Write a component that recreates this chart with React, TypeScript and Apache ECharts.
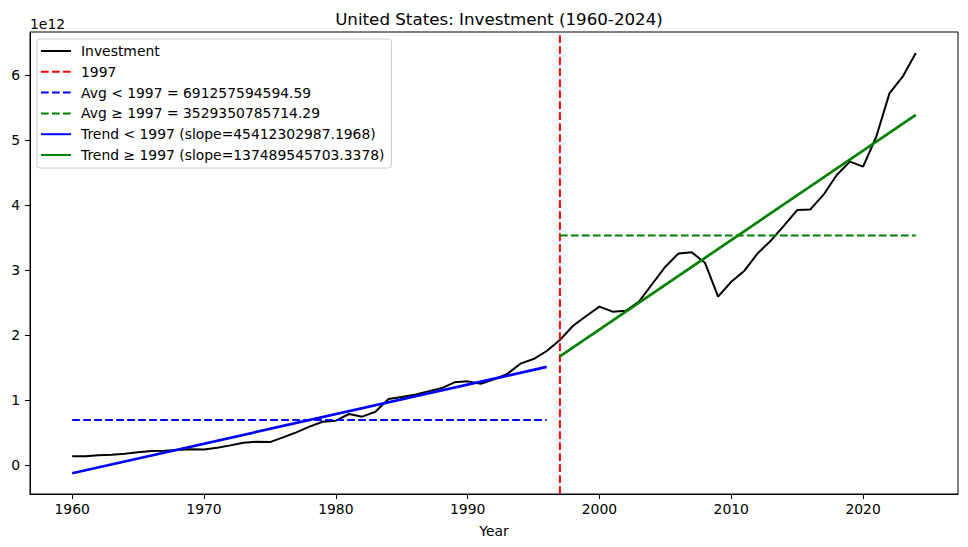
import React, { useEffect, useRef } from "react";
import * as echarts from "echarts";

// Years (x values)
const years = [
  1960, 1961, 1962, 1963, 1964, 1965, 1966, 1967, 1968, 1969,
  1970, 1971, 1972, 1973, 1974, 1975, 1976, 1977, 1978, 1979,
  1980, 1981, 1982, 1983, 1984, 1985, 1986, 1987, 1988, 1989,
  1990, 1991, 1992, 1993, 1994, 1995, 1996, 1997, 1998, 1999,
  2000, 2001, 2002, 2003, 2004, 2005, 2006, 2007, 2008, 2009,
  2010, 2011, 2012, 2013, 2014, 2015, 2016, 2017, 2018, 2019,
  2020, 2021, 2022, 2023, 2024,
];

// Investment, in units of 1e12
const investment = [
  0.134, 0.136, 0.149, 0.159, 0.174, 0.195, 0.215, 0.22, 0.23, 0.241,
  0.238, 0.267, 0.302, 0.343, 0.359, 0.353, 0.426, 0.503, 0.59, 0.666,
  0.682, 0.785, 0.744, 0.82, 1.015, 1.046, 1.082, 1.133, 1.18, 1.272,
  1.287, 1.251, 1.318, 1.4, 1.559, 1.63, 1.754, 1.923, 2.143, 2.292,
  2.436, 2.359, 2.374, 2.513, 2.785, 3.051, 3.256, 3.272, 3.113, 2.59,
  2.82, 2.99, 3.256, 3.451, 3.682, 3.923, 3.933, 4.159, 4.462, 4.667,
  4.59, 5.05, 5.718, 5.974, 6.34,
];

const splitYear = 1997;
const beforeRange = [1960, 1996];
const afterRange = [1997, 2024];
const avgBefore = 0.691257594594; // 1e12
const avgAfter = 3.529350785714; // 1e12
const trendBeforeEnds = [-0.126, 1.509]; // at 1960, 1996
const trendAfterEnds = [1.673, 5.386]; // at 1997, 2024

const xTicks = [1960, 1970, 1980, 1990, 2000, 2010, 2020];
const yTicks = [0, 1, 2, 3, 4, 5, 6];

const seriesNames = [
  "Investment",
  "1997",
  "Avg < 1997 = 691257594594.59",
  "Avg \u2265 1997 = 3529350785714.29",
  "Trend < 1997 (slope=45412302987.1968)",
  "Trend \u2265 1997 (slope=137489545703.3378)",
];

const title = "United States: Investment (1960-2024)";

const X_MIN = 1956.8;
const X_MAX = 2027.2;
const Y_MIN = -0.446;
const Y_MAX = 6.662;

const FONT = "DejaVu Sans";

export default function App() {
  const ref = useRef<HTMLDivElement>(null);
  useEffect(() => {
    document.body.style.margin = "0";
    if (!ref.current) return;
    const chart = echarts.init(ref.current, null, { renderer: "svg" });
    const dash = [7.7, 3.3];
    const thin = 2.0;
    const thick = 2.7;
    chart.setOption({
      animation: false,
      backgroundColor: "#ffffff",
      title: {
        text: title,
        left: 494,
        textAlign: "center",
        top: 5,
        textStyle: { fontFamily: FONT, fontSize: 16.7, fontWeight: "normal", color: "#000" },
      },
      graphic: [
        {
          type: "text",
          left: 30,
          top: 17,
          style: { text: "1e12", fontFamily: FONT, fontSize: 13.9, fill: "#000" },
        },
      ],
      legend: {
        orient: "vertical",
        left: 37,
        top: 39,
        itemWidth: 30,
        itemHeight: 14,
        itemGap: 6.8,
        padding: [5, 7, 6, 3],
        borderColor: "#cccccc",
        borderWidth: 1,
        borderRadius: 3,
        backgroundColor: "rgba(255,255,255,0.8)",
        itemStyle: { color: "transparent", borderWidth: 0, opacity: 0 },
        textStyle: { fontFamily: FONT, fontSize: 13.9, color: "#000", padding: [0, 0, 0, 5] },
        data: seriesNames,
      },
      grid: {
        left: 30,
        right: 10,
        top: 32,
        bottom: 53,
        show: true,
        borderColor: "#000",
        borderWidth: 1,
        backgroundColor: "transparent",
      },
      xAxis: {
        type: "value",
        min: X_MIN,
        max: X_MAX,
        name: "Year",
        nameLocation: "middle",
        nameGap: 30,
        nameTextStyle: { fontFamily: FONT, fontSize: 13.9, color: "#000" },
        axisLine: { show: true, onZero: false, lineStyle: { color: "#000", width: 1 } },
        axisTick: { show: true, inside: false, length: 5, customValues: xTicks, lineStyle: { color: "#000" } },
        axisLabel: {
          customValues: xTicks,
          margin: 8,
          fontFamily: FONT,
          fontSize: 13.9,
          color: "#000",
          formatter: (v: number) => String(v),
        },
        splitLine: { show: false },
      },
      yAxis: {
        type: "value",
        min: Y_MIN,
        max: Y_MAX,
        axisLine: { show: true, onZero: false, lineStyle: { color: "#000", width: 1 } },
        axisTick: { show: true, inside: false, length: 5, customValues: yTicks, lineStyle: { color: "#000" } },
        axisLabel: {
          customValues: yTicks,
          margin: 10,
          fontFamily: FONT,
          fontSize: 13.9,
          color: "#000",
          formatter: (v: number) => String(v),
        },
        splitLine: { show: false },
      },
      series: [
        {
          name: seriesNames[0],
          type: "line",
          data: years.map((y, i) => [y, investment[i]]),
          symbol: "none",
          lineStyle: { color: "#000000", width: thin },
          itemStyle: { color: "#000000" },
        },
        {
          name: seriesNames[1],
          type: "line",
          data: [
            [splitYear, Y_MIN],
            [splitYear, Y_MAX],
          ],
          symbol: "none",
          lineStyle: { color: "#ff0000", width: thin, type: dash },
          itemStyle: { color: "#ff0000" },
        },
        {
          name: seriesNames[2],
          type: "line",
          data: [
            [beforeRange[0], avgBefore],
            [beforeRange[1], avgBefore],
          ],
          symbol: "none",
          lineStyle: { color: "#0000ff", width: thin, type: dash },
          itemStyle: { color: "#0000ff" },
        },
        {
          name: seriesNames[3],
          type: "line",
          data: [
            [afterRange[0], avgAfter],
            [afterRange[1], avgAfter],
          ],
          symbol: "none",
          lineStyle: { color: "#008000", width: thin, type: dash },
          itemStyle: { color: "#008000" },
        },
        {
          name: seriesNames[4],
          type: "line",
          data: [
            [beforeRange[0], trendBeforeEnds[0]],
            [beforeRange[1], trendBeforeEnds[1]],
          ],
          symbol: "none",
          lineStyle: { color: "#0000ff", width: thick },
          itemStyle: { color: "#0000ff" },
        },
        {
          name: seriesNames[5],
          type: "line",
          data: [
            [afterRange[0], trendAfterEnds[0]],
            [afterRange[1], trendAfterEnds[1]],
          ],
          symbol: "none",
          lineStyle: { color: "#008000", width: thick },
          itemStyle: { color: "#008000" },
        },
      ],
    });
    return () => chart.dispose();
  }, []);
  return <div ref={ref} style={{ width: 968, height: 547 }} />;
}
